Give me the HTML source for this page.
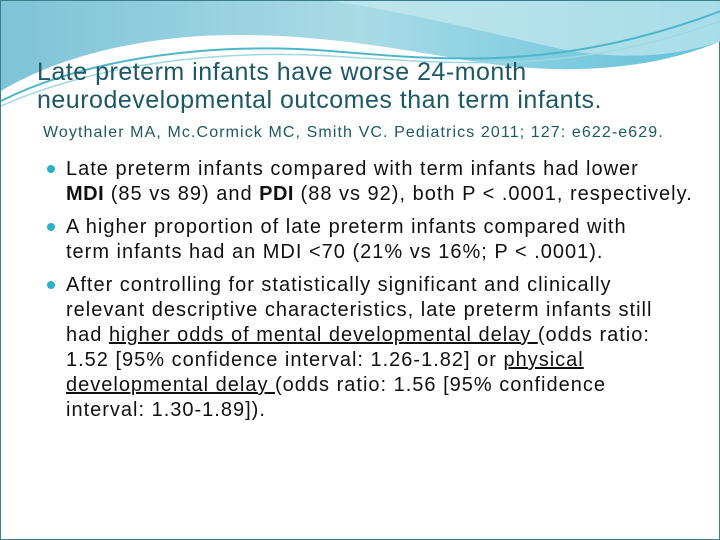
<!DOCTYPE html>
<html><head><meta charset="utf-8"><style>
body{margin:0;width:720px;height:540px;overflow:hidden;background:#fff;font-family:"Liberation Sans",sans-serif}
#slide{position:relative;width:720px;height:540px;box-sizing:border-box;border:1px solid #3d7d8a}
.t{position:absolute;white-space:nowrap}
#title{left:36px;top:57px;font-size:25px;line-height:28px;color:#1d5866;letter-spacing:0.5px}
#cite{left:42px;top:123px;font-size:16px;color:#1d5866;letter-spacing:1.1px}
.b{position:absolute;left:65px;font-size:20px;line-height:25px;color:#111;white-space:nowrap;letter-spacing:1.0px}
.b b{letter-spacing:0.5px}
.dot{position:absolute;left:46px;width:8px;height:8px;border-radius:50%;background:#2ab3c8}
u{text-decoration:underline}
</style></head><body>
<div id="slide">
<svg width="720" height="200" style="position:absolute;left:0;top:0">
<defs><linearGradient id="g" x1="0" y1="0" x2="1" y2="0"><stop offset="0" stop-color="#7fc3d6"/><stop offset="0.5" stop-color="#a9dbe6"/><stop offset="1" stop-color="#5fc0da"/></linearGradient></defs>
<path d="M0 0 H720 V40 C650 70 560 75 470 60 C380 45 300 30 200 35 C120 40 50 60 0 90 Z" fill="url(#g)"/>
<path d="M330 0 C400 10 480 30 560 48 C620 60 680 55 720 40 V0 Z" fill="#c6e9f0" opacity="0.7"/>
<path d="M0 100 C80 60 200 40 330 50 C450 60 560 70 720 10" stroke="#4fb6c9" stroke-width="2" fill="none"/>
<path d="M0 105 C90 65 210 48 330 55 C460 63 570 74 720 20" stroke="#9ed8e2" stroke-width="1.5" fill="none"/>
</svg>
<div id="title" class="t">Late preterm infants have worse 24-month<br>neurodevelopmental outcomes than term infants.</div>
<div id="cite" class="t">Woythaler MA, Mc.Cormick MC, Smith VC. Pediatrics 2011; 127: e622-e629.</div>
<div class="dot" style="top:164px"></div>
<div class="b" style="top:156px">Late preterm infants compared with term infants had lower<br><b>MDI</b> (85 vs 89) and <b>PDI</b> (88 vs 92), both P &lt; .0001, respectively.</div>
<div class="dot" style="top:222px"></div>
<div class="b" style="top:214px">A higher proportion of late preterm infants compared with<br>term infants had an MDI &lt;70 (21% vs 16%; P &lt; .0001).</div>
<div class="dot" style="top:280px"></div>
<div class="b" style="top:272px">After controlling for statistically significant and clinically<br>relevant descriptive characteristics, late preterm infants still<br>had <u>higher odds of mental developmental delay </u>(odds ratio:<br>1.52 [95% confidence interval: 1.26-1.82] or <u>physical</u><br><u>developmental delay </u>(odds ratio: 1.56 [95% confidence<br>interval: 1.30-1.89]).</div>
</div>
</body></html>
